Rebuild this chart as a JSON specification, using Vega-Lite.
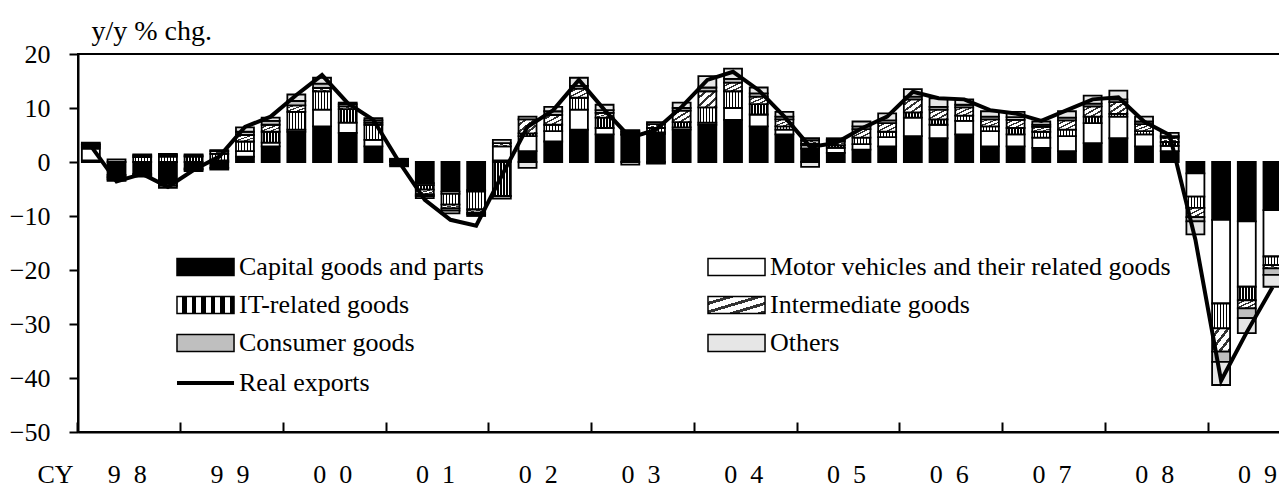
{
  "$schema": "https://vega.github.io/schema/vega-lite/v6.json",
  "autosize": "none",
  "width": 1233,
  "height": 378,
  "padding": {"left": 78, "top": 54, "right": 0, "bottom": 56},
  "background": "white",
  "config": {
    "font": "Liberation Serif",
    "view": {"stroke": "black", "strokeWidth": 2}
  },
  "datasets": {
    "cats": [
      {"k": "cap", "name": "Capital goods and parts", "o": 0},
      {"k": "mot", "name": "Motor vehicles and their related goods", "o": 1},
      {"k": "it", "name": "IT-related goods", "o": 2},
      {"k": "int", "name": "Intermediate goods", "o": 3},
      {"k": "con", "name": "Consumer goods", "o": 4},
      {"k": "oth", "name": "Others", "o": 5}
    ],
    "exports": [
      {"q": "1998Q1", "cap": 0.3, "mot": 2.2, "it": 0.3, "int": 0.3, "con": 0.2, "oth": 0.3, "real": 3.0},
      {"q": "1998Q2", "cap": -2.4, "mot": -0.3, "it": -0.2, "int": -0.3, "con": 0.5, "oth": -0.3, "real": -3.6},
      {"q": "1998Q3", "cap": -2.2, "mot": -0.3, "it": 0.9, "int": 0.3, "con": 0.2, "oth": -0.2, "real": -2.2},
      {"q": "1998Q4", "cap": -4.0, "mot": -0.4, "it": 1.0, "int": 0.3, "con": 0.2, "oth": -0.4, "real": -4.6},
      {"q": "1999Q1", "cap": -1.2, "mot": -0.2, "it": 1.0, "int": 0.2, "con": 0.2, "oth": -0.3, "real": -1.5},
      {"q": "1999Q2", "cap": -1.1, "mot": 0.3, "it": 1.2, "int": 0.5, "con": 0.2, "oth": -0.3, "real": 1.0},
      {"q": "1999Q3", "cap": 1.0, "mot": 1.0, "it": 1.8, "int": 1.2, "con": 0.6, "oth": 0.8, "real": 6.5},
      {"q": "1999Q4", "cap": 2.9, "mot": 0.7, "it": 2.0, "int": 1.3, "con": 0.7, "oth": 0.6, "real": 8.4},
      {"q": "2000Q1", "cap": 5.6, "mot": 0.4, "it": 3.3, "int": 1.2, "con": 0.8, "oth": 1.2, "real": 12.4},
      {"q": "2000Q2", "cap": 6.6, "mot": 3.1, "it": 3.4, "int": 0.6, "con": 0.8, "oth": 1.1, "real": 16.1},
      {"q": "2000Q3", "cap": 5.4, "mot": 1.9, "it": 2.5, "int": 0.5, "con": 0.4, "oth": 0.3, "real": 10.9},
      {"q": "2000Q4", "cap": 2.9, "mot": 1.2, "it": 2.8, "int": 0.4, "con": 0.4, "oth": 0.4, "real": 7.8},
      {"q": "2001Q1", "cap": -0.5, "mot": 0.2, "it": -0.3, "int": 0.1, "con": 0.2, "oth": 0.1, "real": 0.0},
      {"q": "2001Q2", "cap": -3.9, "mot": -0.4, "it": -0.8, "int": -0.9, "con": -0.3, "oth": -0.4, "real": -7.0},
      {"q": "2001Q3", "cap": -5.5, "mot": -0.4, "it": -2.0, "int": -0.7, "con": -0.4, "oth": -0.5, "real": -10.7},
      {"q": "2001Q4", "cap": -5.2, "mot": -0.3, "it": -3.3, "int": -0.6, "con": -0.3, "oth": -0.3, "real": -11.8},
      {"q": "2002Q1", "cap": 0.3, "mot": 2.6, "it": -6.3, "int": 0.6, "con": -0.5, "oth": 0.6, "real": -2.5},
      {"q": "2002Q2", "cap": 2.0, "mot": 2.8, "it": 0.5, "int": 2.6, "con": 0.5, "oth": -1.1, "real": 6.5},
      {"q": "2002Q3", "cap": 3.8, "mot": 1.9, "it": 1.2, "int": 1.8, "con": 0.7, "oth": 0.8, "real": 9.6},
      {"q": "2002Q4", "cap": 6.0, "mot": 3.7, "it": 2.2, "int": 1.7, "con": 0.5, "oth": 1.5, "real": 15.2},
      {"q": "2003Q1", "cap": 5.1, "mot": 1.2, "it": 1.9, "int": 0.9, "con": 0.5, "oth": 1.0, "real": 9.6},
      {"q": "2003Q2", "cap": 5.0, "mot": 0.2, "it": 0.3, "int": 0.2, "con": 0.2, "oth": -0.5, "real": 4.5},
      {"q": "2003Q3", "cap": 5.2, "mot": 0.3, "it": 0.8, "int": 0.7, "con": 0.4, "oth": -0.3, "real": 6.0},
      {"q": "2003Q4", "cap": 6.0, "mot": 0.4, "it": 1.0, "int": 2.1, "con": 0.5, "oth": 1.0, "real": 10.2},
      {"q": "2004Q1", "cap": 6.9, "mot": 0.4, "it": 2.8, "int": 3.0, "con": 0.7, "oth": 2.1, "real": 15.2},
      {"q": "2004Q2", "cap": 7.8, "mot": 2.2, "it": 3.1, "int": 1.6, "con": 0.7, "oth": 1.9, "real": 16.7},
      {"q": "2004Q3", "cap": 6.6, "mot": 2.2, "it": 1.9, "int": 1.4, "con": 0.6, "oth": 1.1, "real": 13.3},
      {"q": "2004Q4", "cap": 5.1, "mot": 0.9, "it": 0.6, "int": 1.3, "con": 0.5, "oth": 0.9, "real": 8.4},
      {"q": "2005Q1", "cap": 2.5, "mot": 0.6, "it": 0.3, "int": 0.6, "con": 0.4, "oth": -0.9, "real": 2.8},
      {"q": "2005Q2", "cap": 1.7, "mot": 0.9, "it": 0.5, "int": 0.7, "con": 0.3, "oth": 0.3, "real": 3.5},
      {"q": "2005Q3", "cap": 2.3, "mot": 1.0, "it": 1.2, "int": 1.6, "con": 0.5, "oth": 0.9, "real": 6.2},
      {"q": "2005Q4", "cap": 2.9, "mot": 1.7, "it": 1.0, "int": 1.6, "con": 0.5, "oth": 1.3, "real": 8.4},
      {"q": "2006Q1", "cap": 4.8, "mot": 3.4, "it": 1.0, "int": 2.4, "con": 0.5, "oth": 1.4, "real": 13.0},
      {"q": "2006Q2", "cap": 4.4, "mot": 2.5, "it": 1.0, "int": 1.8, "con": 0.5, "oth": 1.6, "real": 11.8},
      {"q": "2006Q3", "cap": 5.1, "mot": 2.5, "it": 1.0, "int": 1.5, "con": 0.5, "oth": 1.0, "real": 11.6},
      {"q": "2006Q4", "cap": 2.9, "mot": 2.8, "it": 0.9, "int": 1.3, "con": 0.5, "oth": 1.0, "real": 9.6},
      {"q": "2007Q1", "cap": 2.9, "mot": 2.2, "it": 1.2, "int": 1.5, "con": 0.5, "oth": 1.0, "real": 9.0},
      {"q": "2007Q2", "cap": 2.6, "mot": 1.9, "it": 1.1, "int": 0.9, "con": 0.4, "oth": 0.6, "real": 7.6},
      {"q": "2007Q3", "cap": 2.0, "mot": 2.8, "it": 1.2, "int": 1.7, "con": 0.5, "oth": 1.2, "real": 9.6},
      {"q": "2007Q4", "cap": 3.5, "mot": 3.7, "it": 1.2, "int": 1.9, "con": 0.5, "oth": 1.5, "real": 11.6},
      {"q": "2008Q1", "cap": 4.4, "mot": 4.0, "it": 0.5, "int": 2.2, "con": 0.5, "oth": 1.6, "real": 12.0},
      {"q": "2008Q2", "cap": 2.9, "mot": 2.2, "it": 0.6, "int": 1.3, "con": 0.5, "oth": 0.9, "real": 7.5},
      {"q": "2008Q3", "cap": 2.0, "mot": 1.0, "it": 0.7, "int": 0.8, "con": 0.3, "oth": 0.6, "real": 5.0},
      {"q": "2008Q4", "cap": -2.1, "mot": -4.3, "it": -2.1, "int": -1.7, "con": -0.8, "oth": -2.4, "real": -14.4},
      {"q": "2009Q1", "cap": -10.7, "mot": -15.5, "it": -4.6, "int": -4.3, "con": -1.9, "oth": -4.3, "real": -40.5},
      {"q": "2009Q2", "cap": -11.0, "mot": -12.1, "it": -2.5, "int": -1.5, "con": -1.8, "oth": -2.8, "real": -31.5},
      {"q": "2009Q3", "cap": -8.9, "mot": -8.6, "it": -1.6, "int": -0.6, "con": -1.2, "oth": -2.2, "real": -23.2}
    ]
  },
  "encoding": {
    "x": {
      "field": "q",
      "type": "ordinal",
      "scale": {
        "domain": ["1998Q1","1998Q2","1998Q3","1998Q4","1999Q1","1999Q2","1999Q3","1999Q4","2000Q1","2000Q2","2000Q3","2000Q4","2001Q1","2001Q2","2001Q3","2001Q4","2002Q1","2002Q2","2002Q3","2002Q4","2003Q1","2003Q2","2003Q3","2003Q4","2004Q1","2004Q2","2004Q3","2004Q4","2005Q1","2005Q2","2005Q3","2005Q4","2006Q1","2006Q2","2006Q3","2006Q4","2007Q1","2007Q2","2007Q3","2007Q4","2008Q1","2008Q2","2008Q3","2008Q4","2009Q1","2009Q2","2009Q3","2009Q4"],
        "paddingInner": 0.3,
        "paddingOuter": 0.15
      },
      "axis": {
        "values": ["1998Q1","1999Q1","2000Q1","2001Q1","2002Q1","2003Q1","2004Q1","2005Q1","2006Q1","2007Q1","2008Q1","2009Q1"],
        "bandPosition": -0.2143,
        "tickSize": -10,
        "tickWidth": 2,
        "tickColor": "black",
        "domainColor": "black",
        "domainWidth": 2,
        "grid": false,
        "labelExpr": "slice(datum.value, 2, 3) + '\u2002' + slice(datum.value, 3, 4)",
        "labelOffset": 36.5,
        "labelPadding": 60,
        "labelBaseline": "alphabetic",
        "labelAlign": "center",
        "labelAngle": 0,
        "labelFontSize": 26,
        "labelColor": "black",
        "labelOverlap": false,
        "labelBound": false,
        "labelFlush": false,
        "title": "CY",
        "titleX": -23,
        "titleY": 50,
        "titleAlign": "center",
        "titleBaseline": "alphabetic",
        "titleFontSize": 26,
        "titleFontWeight": "normal",
        "titleColor": "black"
      }
    }
  },
  "layer": [
    {
      "data": {"name": "exports"},
      "transform": [
        {"fold": ["cap", "mot", "it", "int", "con", "oth"], "as": ["k", "v"]},
        {"lookup": "k", "from": {"data": {"name": "cats"}, "key": "k", "fields": ["name", "o"]}}
      ],
      "mark": {"type": "bar", "stroke": "black", "strokeWidth": 1.8},
      "encoding": {
        "y": {
          "field": "v",
          "type": "quantitative",
          "stack": "zero",
          "scale": {"domain": [-50, 20], "nice": false, "zero": false},
          "axis": {
            "values": [-50, -40, -30, -20, -10, 0, 10, 20],
            "tickSize": 9,
            "tickWidth": 2,
            "tickColor": "black",
            "domainColor": "black",
            "domainWidth": 2,
            "grid": false,
            "labelPadding": 19,
            "labelFontSize": 26,
            "labelColor": "black",
            "labelFlush": false,
            "labelBound": false,
            "labelOverlap": false,
            "title": "y/y % chg.",
            "titleAngle": 0,
            "titleX": 13,
            "titleY": -14.5,
            "titleAlign": "left",
            "titleBaseline": "alphabetic",
            "titleFontSize": 28,
            "titleFontWeight": "normal",
            "titleColor": "black"
          }
        },
        "fill": {
          "field": "name",
          "type": "nominal",
          "scale": {
            "domain": ["Capital goods and parts", "IT-related goods", "Consumer goods", "Motor vehicles and their related goods", "Intermediate goods", "Others"],
            "range": [
              "black",
              {"expr": "{gradient:'linear',x1:0,y1:0,x2:1,y2:0,stops:[{offset:0,color:'#fff'},{offset:0.09,color:'#fff'},{offset:0.09,color:'#000'},{offset:0.1667,color:'#000'},{offset:0.1667,color:'#fff'},{offset:0.2567,color:'#fff'},{offset:0.2567,color:'#000'},{offset:0.3333,color:'#000'},{offset:0.3333,color:'#fff'},{offset:0.4233,color:'#fff'},{offset:0.4233,color:'#000'},{offset:0.5,color:'#000'},{offset:0.5,color:'#fff'},{offset:0.59,color:'#fff'},{offset:0.59,color:'#000'},{offset:0.6667,color:'#000'},{offset:0.6667,color:'#fff'},{offset:0.7567,color:'#fff'},{offset:0.7567,color:'#000'},{offset:0.8333,color:'#000'},{offset:0.8333,color:'#fff'},{offset:0.9233,color:'#fff'},{offset:0.9233,color:'#000'},{offset:1,color:'#000'}]}"},
              "#bfbfbf",
              "white",
              {"expr": "{gradient:'linear',x1:0,y1:0,x2:1,y2:1,stops:[{offset:0,color:'#fff'},{offset:0.16,color:'#fff'},{offset:0.16,color:'#333'},{offset:0.25,color:'#333'},{offset:0.25,color:'#fff'},{offset:0.41,color:'#fff'},{offset:0.41,color:'#333'},{offset:0.5,color:'#333'},{offset:0.5,color:'#fff'},{offset:0.66,color:'#fff'},{offset:0.66,color:'#333'},{offset:0.75,color:'#333'},{offset:0.75,color:'#fff'},{offset:0.91,color:'#fff'},{offset:0.91,color:'#333'},{offset:1,color:'#333'}]}"},
              "#e6e6e6"
            ]
          },
          "legend": {
            "orient": "none",
            "legendX": 99,
            "legendY": 200,
            "columns": 2,
            "columnPadding": 220,
            "rowPadding": 12,
            "padding": 0,
            "title": null,
            "symbolType": "M-1.53,-1H5.18V1H-1.53Z",
            "symbolSize": 289,
            "symbolStrokeColor": "black",
            "symbolStrokeWidth": 1.5,
            "symbolOpacity": 1,
            "labelFontSize": 26,
            "labelOffset": 36,
            "labelLimit": 1000,
            "labelColor": "black"
          }
        },
        "order": {"field": "o", "type": "quantitative"}
      }
    },
    {
      "data": {"values": [{"zero": 0}]},
      "mark": {"type": "rule", "color": "black", "strokeWidth": 1.5},
      "encoding": {"y": {"field": "zero", "type": "quantitative"}}
    },
    {
      "data": {"name": "exports"},
      "mark": {"type": "line", "strokeWidth": 4, "strokeJoin": "miter"},
      "encoding": {
        "y": {"field": "real", "type": "quantitative"},
        "stroke": {
          "datum": "Real exports",
          "type": "nominal",
          "scale": {"range": ["black"]},
          "legend": {
            "orient": "none",
            "legendX": 99,
            "legendY": 316,
            "padding": 0,
            "title": null,
            "symbolType": "M-1.53,0H5.18",
            "symbolSize": 289,
            "symbolStrokeWidth": 4,
            "labelFontSize": 26,
            "labelOffset": 36,
            "labelLimit": 1000,
            "labelColor": "black"
          }
        }
      }
    }
  ]
}
